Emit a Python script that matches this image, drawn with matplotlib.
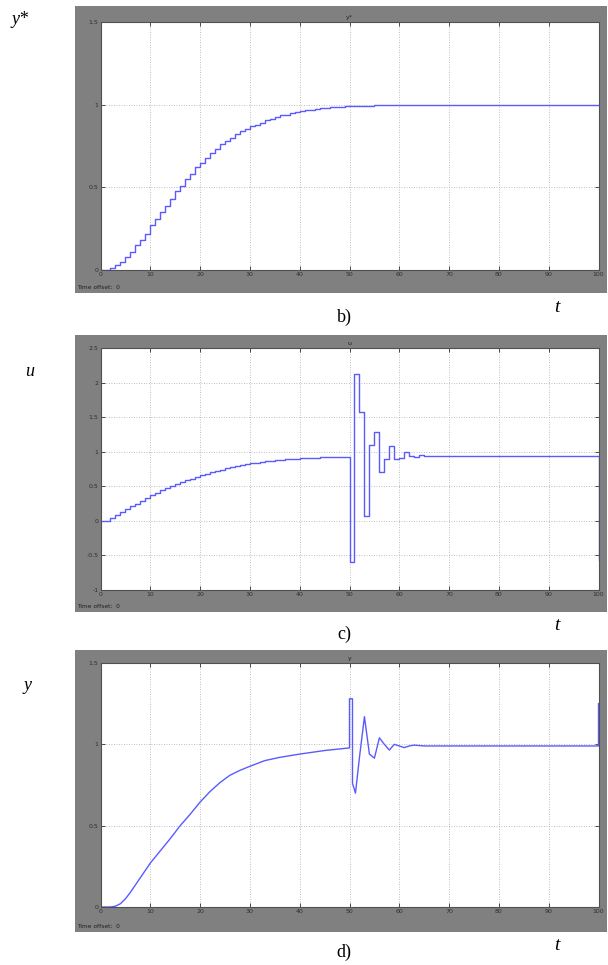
import numpy as np
import matplotlib
matplotlib.use("Agg")
import matplotlib.pyplot as plt

# y* reference, one value per unit step (t = 0..60), then held
ystar_t = list(range(0, 61)) + [100]
ystar_v = [0.0, 0.0, 0.01, 0.03, 0.05, 0.08, 0.11, 0.15, 0.18, 0.22,
           0.27, 0.31, 0.35, 0.39, 0.43, 0.48, 0.51, 0.55, 0.58, 0.62,
           0.65, 0.68, 0.71, 0.73, 0.76, 0.78, 0.80, 0.82, 0.84, 0.85,
           0.87, 0.88, 0.89, 0.905, 0.915, 0.925, 0.935, 0.94, 0.948, 0.955,
           0.96, 0.965, 0.97, 0.974, 0.977, 0.98, 0.983, 0.985, 0.987, 0.989,
           0.99, 0.991, 0.992, 0.993, 0.994, 0.995, 0.996, 0.996, 0.997, 0.998,
           0.998, 1.0]

# control u, one value per unit step (t = 0..67), then held, drop at t = 100
u_t = list(range(0, 68)) + [99, 100]
u_v = [0.0, 0.0, 0.04, 0.09, 0.13, 0.17, 0.21, 0.25, 0.29, 0.33,
       0.37, 0.41, 0.44, 0.47, 0.50, 0.53, 0.56, 0.59, 0.61, 0.64,
       0.66, 0.68, 0.70, 0.72, 0.74, 0.76, 0.775, 0.79, 0.805, 0.82,
       0.83, 0.84, 0.85, 0.86, 0.87, 0.875, 0.88, 0.89, 0.895, 0.90,
       0.905, 0.91, 0.913, 0.916, 0.92, 0.922, 0.925, 0.927, 0.929, 0.93,
       -0.60, 2.13, 1.57, 0.075, 1.09, 1.29, 0.70, 0.90, 1.08, 0.90,
       0.91, 1.00, 0.94, 0.92, 0.95, 0.94, 0.945, 0.935, 0.935, -0.57]

# output y
y_t = [0, 2, 3, 4, 5, 6, 7, 8, 9, 10, 12, 14, 16, 18, 20, 22, 24, 26, 28, 30,
       33, 36, 40, 45, 50, 50, 50.6, 50.6, 51.2, 52, 53, 54, 55, 56, 57, 58,
       59, 60, 61, 62, 63, 65, 100, 100]
y_v = [0.0, 0.0, 0.005, 0.02, 0.05, 0.09, 0.135, 0.18, 0.225, 0.27, 0.345,
       0.42, 0.50, 0.57, 0.645, 0.71, 0.765, 0.81, 0.84, 0.865,
       0.90, 0.92, 0.94, 0.962, 0.978, 1.28, 1.28, 0.76, 0.70, 0.92, 1.17,
       0.94, 0.915, 1.04, 1.0, 0.965, 1.0, 0.99, 0.98, 0.99, 0.995, 0.99,
       0.99, 1.25]

W, H = 608, 965
fig = plt.figure(figsize=(W / 100, H / 100), dpi=100)
fig.patch.set_facecolor("white")

def box(x0, y0, x1, y1):
    # pixel box (top-left origin) -> figure fraction rect
    return [x0 / W, 1 - y1 / H, (x1 - x0) / W, (y1 - y0) / H]

def fx(x):
    return x / W

def fy(y):
    return 1 - y / H

panels = [
    dict(frame=(75, 6, 607, 293), ax=(100.5, 22, 598.5, 270), ylim=(0, 1.5),
         title="y*", t=ystar_t, v=ystar_v, steps=True),
    dict(frame=(75, 335, 607, 612), ax=(100.5, 348, 598.5, 590), ylim=(-1, 2.5),
         title="u", t=u_t, v=u_v, steps=True),
    dict(frame=(75, 650, 607, 932), ax=(100.5, 663, 598.5, 907), ylim=(0, 1.5),
         title="y", t=y_t, v=y_v, steps=False),
]

blue = "#5a5aff"
for p in panels:
    # grey scope window behind the plot area
    fr = fig.add_axes(box(*p["frame"]), zorder=0)
    fr.set_facecolor("#808080")
    fr.set_xticks([])
    fr.set_yticks([])
    for s in fr.spines.values():
        s.set_visible(False)

    ax = fig.add_axes(box(*p["ax"]), zorder=1)
    ax.set_facecolor("white")
    if p["steps"]:
        ax.step(p["t"], p["v"], where="post", color=blue, lw=1.0)
    else:
        ax.plot(p["t"], p["v"], color=blue, lw=1.0)
    ax.set_xlim(0, 100)
    ax.set_ylim(*p["ylim"])
    ax.set_xticks(np.arange(0, 101, 10))
    lo, hi = p["ylim"]
    ax.set_yticks(np.arange(lo, hi + 0.01, 0.5))
    ax.set_yticklabels(["%g" % v for v in np.arange(lo, hi + 0.01, 0.5)])
    ax.grid(True, color="#a8a8a8", lw=0.6, linestyle=(0, (1, 2)))
    ax.tick_params(direction="in", length=3, width=0.6, labelsize=4.5,
                   colors="#303030", top=True, right=True, pad=1.5)
    for s in ax.spines.values():
        s.set_color("#505050")
        s.set_linewidth(0.8)
    ax.set_title(p["title"], fontsize=4.5, color="#202020", pad=2)
    x0, y0, x1, y1 = p["frame"]
    fig.text(fx(77), fy(y1 - 3), "Time offset:  0", fontsize=4.2,
             color="#202020", ha="left", va="bottom", zorder=3)

serif = "Liberation Serif"
fig.text(fx(20), fy(20), "y*", fontsize=13, family=serif, style="italic",
         ha="center", va="center")
fig.text(fx(30), fy(372), "u", fontsize=13, family=serif, style="italic",
         ha="center", va="center")
fig.text(fx(28), fy(686), "y", fontsize=13, family=serif, style="italic",
         ha="center", va="center")

for lab, ly, ty in [("b)", 317, 308), ("c)", 634, 626), ("d)", 952, 946)]:
    fig.text(fx(344), fy(ly), lab, fontsize=13, family=serif,
             ha="center", va="center")
    fig.text(fx(557), fy(ty), "t", fontsize=14, family=serif, style="italic",
             ha="center", va="center")

fig.savefig("out.png", dpi=100)
